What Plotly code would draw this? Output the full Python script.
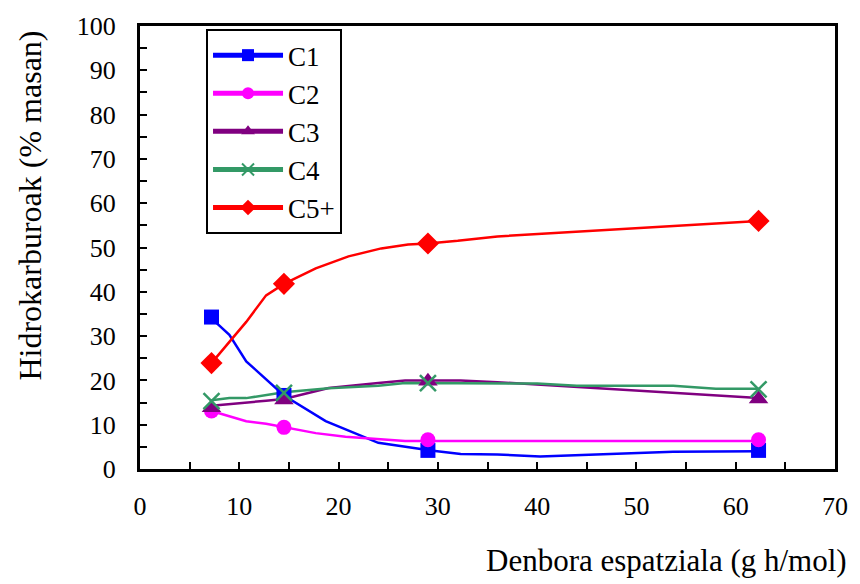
import plotly.graph_objects as go

# Experimental points (markers)
x_exp = [7.2, 14.5, 29.0, 62.3]
c1_exp = [34.3, 16.6, 4.2, 4.2]
c2_exp = [13.1, 9.4, 6.6, 6.6]
c3_exp = [13.8, 15.6, 19.8, 15.8]
c4_exp = [15.3, 17.2, 19.4, 18.0]
c5_exp = [23.9, 41.8, 50.9, 56.0]

# Model curves (lines)
c1_x = [7.2, 9.0, 10.7, 14.5, 18.7, 24.0, 29.3, 32.3, 36.0, 40.3, 53.7, 62.3]
c1_y = [34.0, 30.3, 24.3, 16.6, 10.8, 5.9, 4.2, 3.4, 3.3, 2.8, 3.9, 4.0]
c2_x = [7.2, 10.7, 12.7, 14.5, 17.7, 20.7, 24.0, 26.7, 35.0, 62.3]
c2_y = [13.1, 10.8, 10.2, 9.4, 8.1, 7.3, 6.7, 6.3, 6.3, 6.3]
c3_x = [7.2, 10.7, 12.7, 14.5, 19.0, 24.0, 26.7, 32.3, 36.0, 62.3]
c3_y = [14.3, 14.9, 15.4, 15.8, 18.3, 19.4, 20.0, 20.0, 19.6, 16.0]
c4_x = [7.2, 9.0, 10.7, 14.5, 19.0, 24.0, 26.7, 36.0, 40.0, 44.0, 53.7, 58.0, 62.3]
c4_y = [15.5, 16.0, 16.0, 17.3, 18.2, 18.8, 19.4, 19.4, 19.3, 18.8, 18.8, 18.1, 18.1]
c5_x = [7.2, 10.7, 12.7, 14.5, 17.7, 21.0, 24.3, 27.0, 29.0, 32.0, 36.0, 62.3]
c5_y = [23.9, 33.2, 39.2, 41.8, 45.3, 48.0, 49.8, 50.7, 50.9, 51.5, 52.5, 56.0]

names = ["C1", "C2", "C3", "C4", "C5+"]
colors = ["#0000FF", "#FF00FF", "#800080", "#339966", "#FF0000"]
symbols = ["square", "circle", "triangle-up", "x-thin", "diamond"]
sizes = [15, 15, 17, 16, 17]

exp = [c1_exp, c2_exp, c3_exp, c4_exp, c5_exp]
curves = [(c1_x, c1_y), (c2_x, c2_y), (c3_x, c3_y), (c4_x, c4_y), (c5_x, c5_y)]

fig = go.Figure()


def marker_dict(i):
    if symbols[i] == "x-thin":
        return dict(symbol="x-thin", size=sizes[i], color=colors[i],
                    line=dict(color=colors[i], width=2.5))
    return dict(symbol=symbols[i], size=sizes[i], color=colors[i], line=dict(width=0))


for i in range(5):
    cx, cy = curves[i]
    fig.add_trace(go.Scatter(x=cx, y=cy, mode="lines", showlegend=False,
                             line=dict(color=colors[i], width=2.5), hoverinfo="skip"))
for i in range(5):
    fig.add_trace(go.Scatter(x=x_exp, y=exp[i], mode="markers", showlegend=False,
                             marker=marker_dict(i)))
# legend entries
for i in range(5):
    fig.add_trace(go.Scatter(x=[None], y=[None], mode="lines+markers", name=names[i],
                             line=dict(color=colors[i], width=2.5), marker=marker_dict(i)))

FF = "Liberation Serif"

fig.update_layout(
    width=860, height=584,
    margin=dict(l=140, r=15, t=25, b=115),
    paper_bgcolor="white", plot_bgcolor="white",
    font=dict(family=FF, size=26, color="black"),
    showlegend=True,
    legend=dict(x=0.095, y=0.993, xanchor="left", yanchor="top",
                bordercolor="black", borderwidth=2, bgcolor="white",
                font=dict(family=FF, size=27, color="black"),
                itemsizing="constant", itemwidth=70, tracegroupgap=0),
    xaxis=dict(range=[0, 70], dtick=10, tick0=0, showgrid=False, zeroline=False,
               showline=True, linecolor="black", linewidth=3, mirror=True,
               ticks="inside", ticklen=7, tickwidth=2, tickcolor="black",
               minor=dict(dtick=5, ticks="inside", ticklen=7, tickwidth=2, tickcolor="black"),
               ticklabelstandoff=12,
               tickfont=dict(family=FF, size=26, color="black")),
    yaxis=dict(range=[0, 100], dtick=10, tick0=0, showgrid=False, zeroline=False,
               showline=True, linecolor="black", linewidth=3, mirror=True,
               ticks="inside", ticklen=7, tickwidth=2, tickcolor="black",
               minor=dict(dtick=5, ticks="inside", ticklen=7, tickwidth=2, tickcolor="black"),
               ticklabelstandoff=16,
               tickfont=dict(family=FF, size=26, color="black")),
    annotations=[
        dict(text="Hidrokarburoak (% masan)", xref="paper", yref="paper",
             x=-0.158, y=0.595, xanchor="center", yanchor="middle", textangle=-90,
             showarrow=False, font=dict(family=FF, size=32, color="black")),
        dict(text="Denbora espatziala (g h/mol)", xref="paper", yref="paper",
             x=1.02, y=-0.207, xanchor="right", yanchor="middle",
             showarrow=False, font=dict(family=FF, size=31, color="black")),
    ],
)

fig.write_html("out.html")
